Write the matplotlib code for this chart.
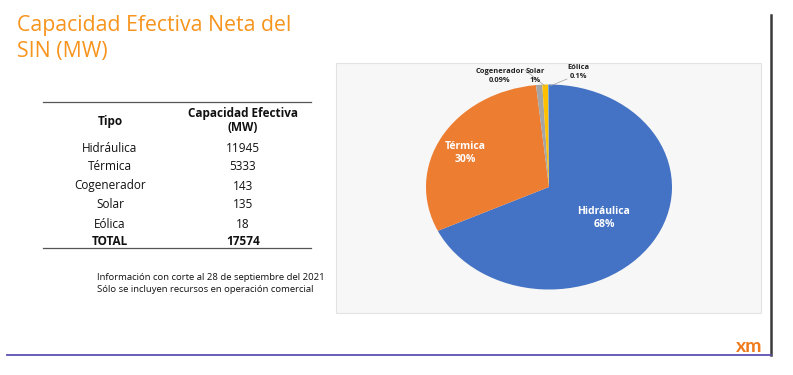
import matplotlib
matplotlib.use("Agg")
import matplotlib.pyplot as plt
from matplotlib.patches import Rectangle
from matplotlib.lines import Line2D

# ---- data ----
tipos = ["Hidráulica", "Térmica", "Cogenerador", "Solar", "Eólica"]
capacidad = [11945, 5333, 143, 135, 18]
total = 17574
pie_labels = ["Hidráulica\n68%", "Térmica\n30%", "Cogenerador\n0.09%", "Solar\n1%", "Eólica\n0.1%"]
colors = ["#4472C4", "#ED7D31", "#A5A5A5", "#FFC000", "#5B9BD5"]

W, H = 793, 375
fig = plt.figure(figsize=(W / 100, H / 100), dpi=100)
fig.patch.set_facecolor("white")
FONT = ["Open Sans", "DejaVu Sans"]


def fx(px):
    return px / W


def fy(py):
    return 1 - py / H


def ftext(px, py, s, **kw):
    kw.setdefault("family", FONT)
    fig.text(fx(px), fy(py), s, **kw)


# Title
ftext(17, 26, "Capacidad Efectiva Neta del", fontsize=15.3, color="#F7941D",
      va="center", ha="left")
ftext(17, 52, "SIN (MW)", fontsize=15.3, color="#F7941D", va="center", ha="left")

# Table
fig.add_artist(Line2D([fx(43), fx(311)], [fy(102), fy(102)], color="#555555", lw=0.9))
fig.add_artist(Line2D([fx(43), fx(311)], [fy(248), fy(248)], color="#555555", lw=0.9))
TS = 8.5
ftext(110, 121, "Tipo", fontsize=TS, weight="bold", ha="center", va="center", color="#111111")
ftext(243, 113, "Capacidad Efectiva", fontsize=TS, weight="bold", ha="center", va="center", color="#111111")
ftext(243, 128, "(MW)", fontsize=TS, weight="bold", ha="center", va="center", color="#111111")
row_y = [149, 167, 186, 205, 224]
for t, v, y in zip(tipos, capacidad, row_y):
    ftext(110, y, t, fontsize=TS, ha="center", va="center", color="#111111")
    ftext(243, y, str(v), fontsize=TS, ha="center", va="center", color="#111111")
ftext(110, 241, "TOTAL", fontsize=TS, weight="bold", ha="center", va="center", color="#111111")
ftext(243, 241, str(total), fontsize=TS, weight="bold", ha="center", va="center", color="#111111")

# Footnote
ftext(97, 277, "Información con corte al 28 de septiembre del 2021", fontsize=6.8,
      ha="left", va="center", color="#111111")
ftext(97, 289, "Sólo se incluyen recursos en operación comercial", fontsize=6.8,
      ha="left", va="center", color="#111111")

# Pie chart box
fig.add_artist(Rectangle((fx(336), fy(313)), (761 - 336) / W, (313 - 63) / H,
                         transform=fig.transFigure, facecolor="#F7F7F7",
                         edgecolor="#E3E3E3", lw=0.8, zorder=-5))

cx, cy, rx, ry = 549, 187, 123, 102.5
ax = fig.add_axes([fx(cx - rx), fy(cy + ry), 2 * rx / W, 2 * ry / H])
ax.set_zorder(5)
ax.patch.set_alpha(0)
ax.pie(capacidad, colors=colors, startangle=90, counterclock=False,
       wedgeprops=dict(linewidth=0))
ax.set_xlim(-1, 1)
ax.set_ylim(-1, 1)
ax.set_aspect("auto")
ax.axis("off")


def d(px, py):
    return ((px - cx) / rx, (cy - py) / ry)


ax.text(*d(604, 218), pie_labels[0], color="white", fontsize=7.5, weight="bold",
        ha="center", va="center", family=FONT, linespacing=1.2)
ax.text(*d(465, 153), pie_labels[1], color="white", fontsize=7.5, weight="bold",
        ha="center", va="center", family=FONT, linespacing=1.2)
ax.text(*d(500, 76), pie_labels[2], color="#222222", fontsize=5.4, weight="bold",
        ha="center", va="center", family=FONT, linespacing=1.3)
ax.text(*d(535, 76), pie_labels[3], color="#222222", fontsize=5.4, weight="bold",
        ha="center", va="center", family=FONT, linespacing=1.3)
ax.text(*d(578, 72), pie_labels[4], color="#222222", fontsize=5.4, weight="bold",
        ha="center", va="center", family=FONT, linespacing=1.3)
for a, b in [((525, 70), (545, 86)), ((567, 79), (550, 86))]:
    ax.add_line(Line2D([d(*a)[0], d(*b)[0]], [d(*a)[1], d(*b)[1]],
                       color="#A0A0A0", lw=0.5, clip_on=False))

# Decorations
fig.add_artist(Line2D([fx(771), fx(771)], [fy(15), fy(355)], color="#3A3A3A", lw=1.8))
fig.add_artist(Line2D([fx(7), fx(771)], [fy(355), fy(355)], color="#5B4FB0", lw=1.3))
ftext(749, 346, "xm", fontsize=14, weight="bold", color="#F07A1A", ha="center",
      va="center", family=["Lato", "DejaVu Sans"])

fig.savefig("out.png", dpi=100, facecolor="white")
